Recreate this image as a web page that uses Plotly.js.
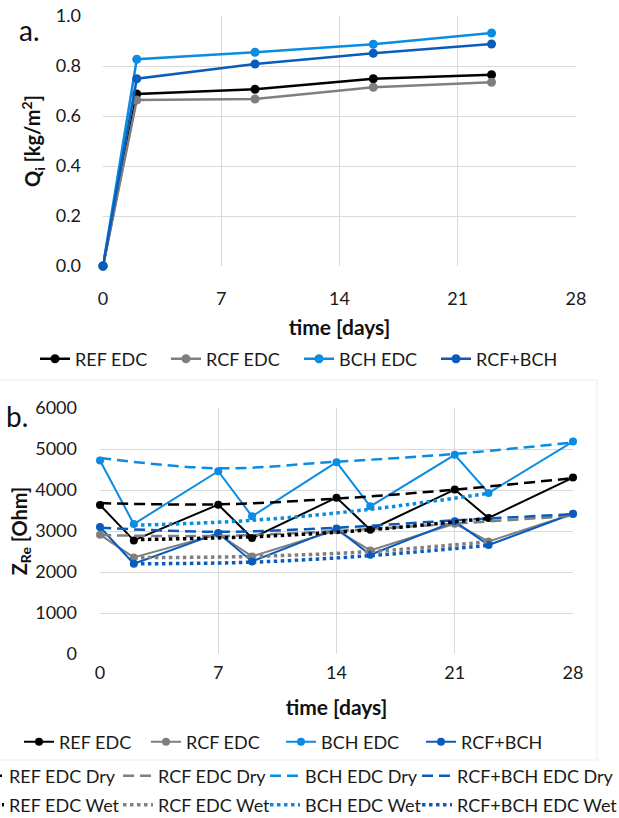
<!DOCTYPE html>
<html>
<head>
<meta charset="utf-8">
<script src="https://cdn.plot.ly/plotly-3.0.1.min.js"></script>
<style>
  html, body { margin: 0; padding: 0; background: #ffffff; }
  #chart { width: 619px; height: 818px; }
</style>
</head>
<body>
<div id="chart"></div>
<script>
// ---- a. cumulative water uptake Q_i [kg/m2] ----
const daysQ = [0, 2, 9, 16, 23];
const qRefEdc   = [0, 0.688, 0.707, 0.749, 0.765];
const qRcfEdc   = [0, 0.664, 0.668, 0.715, 0.735];
const qBchEdc   = [0, 0.827, 0.855, 0.887, 0.932];
const qRcfBch   = [0, 0.749, 0.808, 0.851, 0.888];

// ---- b. real part of impedance Z_Re [Ohm] ----
const daysZ = [0, 2, 7, 9, 14, 16, 21, 23, 28];
const zRefEdc = [3635, 2770, 3643, 2828, 3814, 3032, 4010, 3317, 4303];
const zRcfEdc = [2910, 2355, 2926, 2380, 3020, 2526, 3178, 2746, 3415];
const zBchEdc = [4719, 3171, 4458, 3357, 4678, 3602, 4858, 3929, 5183];
const zRcfBch = [3097, 2200, 2950, 2258, 3064, 2420, 3235, 2657, 3423];

// trend curves of the dry (days 0,7,14,21,28) and wet (days 2,9,16,23) states
const daysDry = [0, 7, 14, 21, 28];
const dryRef = [3680, 3650, 3790, 4010, 4290];
const dryRcf = [2900, 2880, 3000, 3180, 3370];
const dryBch = [4780, 4530, 4690, 4880, 5160];
const dryRcfBch = [3080, 2980, 3080, 3260, 3410];

const daysWet = [2, 9, 16, 23];
const wetRef = [2790, 2860, 3030, 3310];
const wetRcf = [2350, 2380, 2500, 2740];
const wetBch = [3140, 3260, 3530, 3920];
const wetRcfBch = [2200, 2240, 2400, 2650];

const names = ['REF EDC', 'RCF EDC', 'BCH EDC', 'RCF+BCH'];
const dryNames = ['REF EDC Dry', 'RCF EDC Dry', 'BCH EDC Dry', 'RCF+BCH EDC Dry'];
const wetNames = ['REF EDC Wet', 'RCF EDC Wet', 'BCH EDC Wet', 'RCF+BCH EDC Wet'];
const colors = ['#000000', '#7f7f7f', '#0a8ce2', '#0a5cbc'];

const W = 619, H = 818;
const px = v => v / W;          // pixel column -> paper x
const py = v => 1 - v / H;      // pixel row -> paper y
const FONT = 'Lato, "Open Sans", sans-serif';

// every legend entry sits in its own one-item legend so the rows can be laid out freely
const legends = {};
let legendCount = 0;
function newLegend(textLeft, rowY) {
  legendCount += 1;
  const key = legendCount === 1 ? 'legend' : 'legend' + legendCount;
  legends[key] = {
    orientation: 'h', x: px(textLeft - 41), y: py(rowY), xanchor: 'left', yanchor: 'middle',
    font: { family: FONT, size: 18, color: '#1a1a1a' },
    bgcolor: 'rgba(0,0,0,0)', borderwidth: 0,
    itemclick: false, itemdoubleclick: false
  };
  return key;
}

const topText = [76, 207, 340, 477];
const rowText = [60, 187, 322, 462];
const dwText  = [10, 159, 306, 458];

const traces = [];
[qRefEdc, qRcfEdc, qBchEdc, qRcfBch].forEach((ys, i) => {
  traces.push({
    x: daysQ, y: ys, name: names[i], type: 'scatter', mode: 'lines+markers',
    xaxis: 'x', yaxis: 'y', legend: newLegend(topText[i], 359), cliponaxis: false,
    line: { color: colors[i], width: 2.5 },
    marker: { color: colors[i], size: 9 }
  });
});
[zRefEdc, zRcfEdc, zBchEdc, zRcfBch].forEach((ys, i) => {
  traces.push({
    x: daysZ, y: ys, name: names[i], type: 'scatter', mode: 'lines+markers',
    xaxis: 'x2', yaxis: 'y2', legend: newLegend(rowText[i], 742), cliponaxis: false,
    line: { color: colors[i], width: 2 },
    marker: { color: colors[i], size: 8 }
  });
});
[dryRef, dryRcf, dryBch, dryRcfBch].forEach((ys, i) => {
  traces.push({
    x: daysDry, y: ys, name: dryNames[i], type: 'scatter', mode: 'lines',
    xaxis: 'x2', yaxis: 'y2', legend: newLegend(dwText[i], 776),
    line: { color: colors[i], width: 2.5, dash: '11px,6px', shape: 'spline', smoothing: 1 }
  });
});
[wetRef, wetRcf, wetBch, wetRcfBch].forEach((ys, i) => {
  traces.push({
    x: daysWet, y: ys, name: wetNames[i], type: 'scatter', mode: 'lines',
    xaxis: 'x2', yaxis: 'y2', legend: newLegend(dwText[i], 805),
    line: { color: colors[i], width: 3.5, dash: 'dot', shape: 'spline', smoothing: 1 }
  });
});

const tickFont = { family: FONT, size: 18, color: '#1a1a1a' };
const titleFont = { family: FONT, size: 21, color: '#111111', weight: 'bold' };
const grid = '#d9d9d9';

function xAxis(domain, anchor, labelGap, titleGap) {
  return {
    domain: domain, anchor: anchor, range: [0, 28], tick0: 0, dtick: 7,
    showgrid: true, gridcolor: grid, gridwidth: 1, zeroline: false, showline: false,
    ticks: '', tickfont: tickFont, ticklabelstandoff: labelGap, automargin: false,
    title: { text: 'time [days]', font: titleFont, standoff: titleGap }
  };
}

const layout = Object.assign({
  width: W, height: H,
  margin: { l: 0, r: 0, t: 0, b: 0, autoexpand: false },
  paper_bgcolor: '#ffffff', plot_bgcolor: '#ffffff',
  font: { family: FONT },
  showlegend: true,
  xaxis: xAxis([px(103), px(576)], 'y', 20, 12),
  yaxis: {
    domain: [py(266), py(16)], anchor: 'x', range: [0, 1], dtick: 0.2, tickformat: '.1f',
    showgrid: true, gridcolor: grid, zeroline: false, showline: false,
    ticks: '', tickfont: tickFont, ticklabelstandoff: 21, automargin: false,
    title: { text: 'Q<sub>i</sub> [kg/m<sup>2</sup>]', font: { family: FONT, size: 20, color: '#111111', weight: 'bold' }, standoff: 9 }
  },
  xaxis2: xAxis([px(100), px(573)], 'y2', 6, 18),
  yaxis2: {
    domain: [py(654), py(408)], anchor: 'x2', range: [0, 6000], dtick: 1000,
    showgrid: true, gridcolor: grid, zeroline: false, showline: false,
    ticks: '', tickfont: tickFont, ticklabelstandoff: 22, automargin: false,
    title: { text: 'Z<sub>Re</sub> [Ohm]', font: { family: FONT, size: 20, color: '#111111', weight: 'bold' }, standoff: 2 }
  },
  shapes: [
    // faint frame of the lower chart area
    { type: 'rect', xref: 'paper', yref: 'paper', x0: px(-2), x1: px(597), y0: py(760), y1: py(380),
      line: { color: '#ededed', width: 1 }, fillcolor: 'rgba(0,0,0,0)', layer: 'below' }
  ],
  annotations: [
    { text: 'a.', x: px(17), y: py(30), xref: 'paper', yref: 'paper', xanchor: 'left', yanchor: 'middle',
      showarrow: false, font: { family: FONT, size: 28, color: '#111111' } },
    { text: 'b.', x: px(4), y: py(416), xref: 'paper', yref: 'paper', xanchor: 'left', yanchor: 'middle',
      showarrow: false, font: { family: FONT, size: 28, color: '#111111' } }
  ]
}, legends);

Plotly.newPlot('chart', traces, layout, { displayModeBar: false, staticPlot: true });
</script>
</body>
</html>
